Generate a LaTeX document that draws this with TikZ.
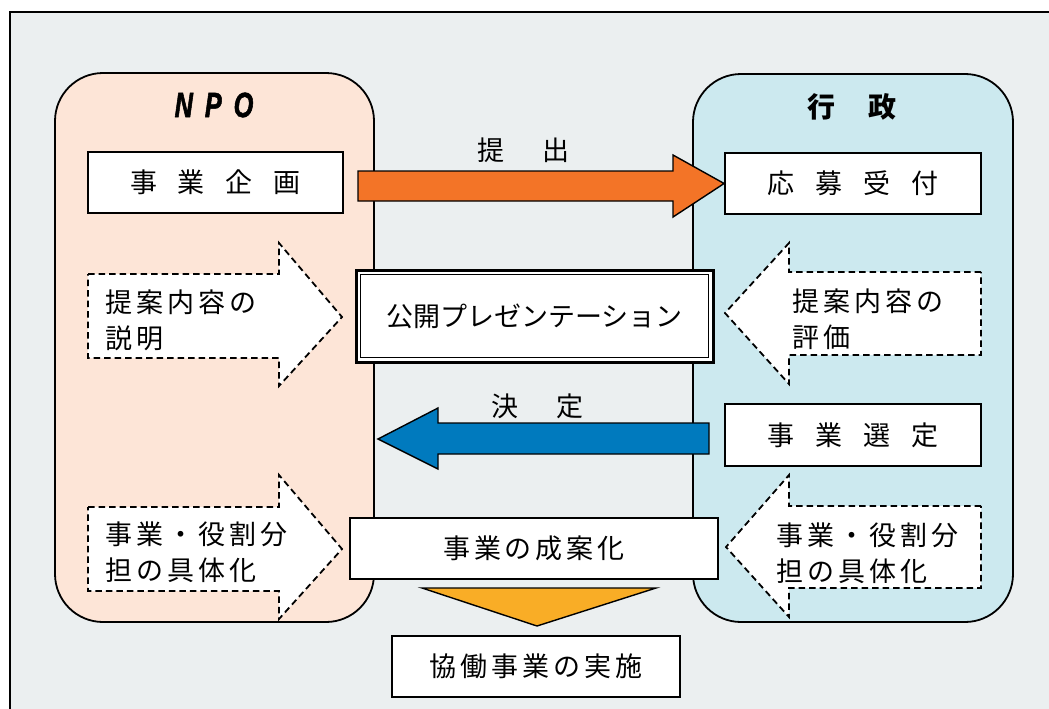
\documentclass[tikz,border=0pt]{standalone}
\usepackage{fontspec}
\setmainfont{Noto Sans CJK JP}
\newfontfamily\npofont{Liberation Sans Bold Italic}[FakeStretch=0.72, FakeBold=1.5]
\usetikzlibrary{calc}
\definecolor{bgc}{RGB}{235,239,240}
\definecolor{npoc}{RGB}{253,229,215}
\definecolor{govc}{RGB}{204,233,239}
\definecolor{orc}{RGB}{243,116,39}
\definecolor{blc}{RGB}{0,122,190}
\definecolor{yec}{RGB}{249,173,38}
\newcommand\kk{\kern4pt}
\tikzset{
  jp/.style={font=\fontsize{27}{36}\selectfont, inner sep=0pt},
  wbox/.style={draw=black, line width=1.8pt, fill=white, inner sep=0pt, jp},
  side/.style={draw=black, line width=1.8pt, rounded corners=48pt},
  dasharrow/.style={draw=black, fill=white, line width=1.8pt, dash pattern=on 6.5pt off 4pt},
  fatarrow/.style={draw=black, line width=1.4pt, line join=miter},
  lbl/.style={jp, align=left, anchor=west},
}
\begin{document}
\begin{tikzpicture}[x=1pt,y=-1pt]
\useasboundingbox (0,0) rectangle (1049,709);
% background frame
\fill[bgc] (10,12) rectangle (1049,709);
\draw[line width=1.6pt] (10,709) -- (10,12) -- (1049,12);
% side panels
\draw[side, fill=npoc] (55,73) rectangle (374,622);
\draw[side, fill=govc] (693,74) rectangle (1013,622);
\node[inner sep=0pt, font=\npofont\fontsize{35}{36}\selectfont] (npo) at (214,105) {N\hspace{12pt}P\hspace{12pt}O};
\node[jp, font=\fontsize{28}{36}\selectfont\bfseries] (gyosei) at (852,107) {行\hspace{33pt}政};
% boxes
\node[wbox, minimum width=255pt, minimum height=61pt] (kikaku) at (215.5,182.5) {事\hspace{21pt}業\hspace{21pt}企\hspace{21pt}画};
\node[wbox, minimum width=256pt, minimum height=61pt] (oubo) at (853,183.5) {応\hspace{21pt}募\hspace{21pt}受\hspace{21pt}付};
\node[wbox, minimum width=256pt, minimum height=62pt] (sentei) at (853,435) {事\hspace{21pt}業\hspace{21pt}選\hspace{21pt}定};
\node[wbox, line width=3pt, minimum width=357pt, minimum height=92pt] (pres) at (534.5,316) {};
\draw[line width=1.5pt] ($(pres.north west)+(6,6)$) rectangle ($(pres.south east)+(-6,-6)$);
\node[jp] (prestext) at (pres.center) {公開プレゼンテーション};
\node[wbox, minimum width=368pt, minimum height=61pt] (seian) at (534,548.5) {事\kk 業\kk の\kk 成\kk 案\kk 化};
\node[wbox, minimum width=288pt, minimum height=61pt] (jisshi) at (536,666.5) {協\kk 働\kk 事\kk 業\kk の\kk 実\kk 施};
% big arrows
\draw[fatarrow, fill=orc] (358,171) -- (673,171) -- (673,155) -- (oubo.west) -- (673,217) -- (673,201) -- (358,201) -- cycle;
\node[jp] (teishutsu) at (523.5,150) {提\hspace{38pt}出};
\draw[fatarrow, fill=blc] (709,423) -- (438,423) -- (438,408) -- (378,439) -- (438,469) -- (438,454) -- (709,454) -- cycle;
\node[jp] (kettei) at (537.5,406) {決\hspace{38pt}定};
\draw[fatarrow, fill=yec] (422,588) -- (656,588) -- (537,626) -- cycle;
% dashed arrows
\draw[dasharrow] (88,274) -- (279,274) -- (279,243) -- (342,317) -- (279,386) -- (279,358) -- (88,358) -- cycle;
\node[lbl] (setsumei) at (105,320) {提\kk 案\kk 内\kk 容\kk の\\説\kk 明};
\draw[dasharrow] (981,272) -- (789,272) -- (789,243) -- (725,313) -- (789,384) -- (789,355) -- (981,355) -- cycle;
\node[lbl] (hyoka) at (792,319) {提\kk 案\kk 内\kk 容\kk の\\評\kk 価};
\draw[dasharrow] (88,507) -- (279,507) -- (279,475) -- (342,549) -- (279,619) -- (279,591) -- (88,591) -- cycle;
\node[lbl] (gutai1) at (105,552.5) {事\kk 業\kk ・\kk 役\kk 割\kk 分\\担\kk の\kk 具\kk 体\kk 化};
\draw[dasharrow] (981,506) -- (789,506) -- (789,475) -- (726,547) -- (789,617) -- (789,588) -- (981,588) -- cycle;
\node[lbl] (gutai2) at (776,553.5) {事\kk 業\kk ・\kk 役\kk 割\kk 分\\担\kk の\kk 具\kk 体\kk 化};
\end{tikzpicture}
\end{document}
